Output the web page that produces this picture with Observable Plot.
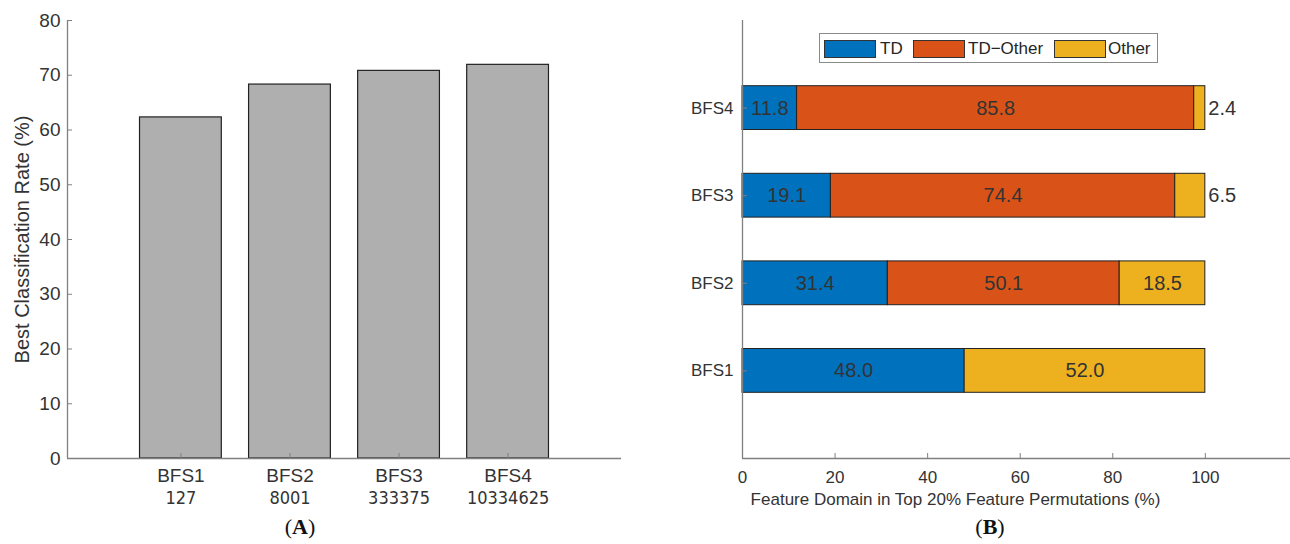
<!DOCTYPE html>
<html>
<head>
<meta charset="utf-8">
<script src="https://cdn.jsdelivr.net/npm/d3@7"></script>
<script src="https://cdn.jsdelivr.net/npm/@observablehq/plot@0.6"></script>
<style>
  html, body { margin: 0; padding: 0; background: #fff; overflow: hidden; }
  #wrap { position: relative; width: 1290px; height: 544px; font-family: "Liberation Sans", Arial, sans-serif; color: #333; }
  #left, #right { position: absolute; top: 0; }
  #left { left: 0; }
  #right { left: 645px; }
  .cap { position: absolute; top: 514px; font-family: "Liberation Serif", "Times New Roman", serif; font-size: 22px; color: #111; transform: translateX(-50%); white-space: nowrap; }
  .cap b { font-weight: bold; }
  #legend { position: absolute; left: 819px; top: 33px; width: 337px; height: 28px; border: 1px solid #8a8a8a; background: #fff; }
  #legend .sw { position: absolute; top: 6px; width: 50px; height: 16px; border: 1px solid #333; }
  #legend .lb { position: absolute; top: 5px; font-size: 17px; line-height: 20px; color: #262626; white-space: nowrap; }
</style>
</head>
<body>
<div id="wrap">
  <div id="left"></div>
  <div id="right"></div>
  <div id="legend"></div>
  <div class="cap" style="left:300px">(<b>A</b>)</div>
  <div class="cap" style="left:990px">(<b>B</b>)</div>
</div>
<script>
// Panel A: best classification rate per feature set
const bfsNames = ["BFS1", "BFS2", "BFS3", "BFS4"];
const bfsCounts = ["127", "8001", "333375", "10334625"];
const bestRate = [62.3, 68.3, 70.8, 71.9];
const rateTicks = [0, 10, 20, 30, 40, 50, 60, 70, 80];

// Panel B: feature domain shares in the top 20% permutations
const domains = ["TD", "TD\u2212Other", "Other"];
const domainColors = ["#0072BD", "#D95319", "#EDB120"];
const tdShare = [48.0, 31.4, 19.1, 11.8];
const tdOtherShare = [0, 50.1, 74.4, 85.8];
const otherShare = [52.0, 18.5, 6.5, 2.4];
const shareTicks = [0, 20, 40, 60, 80, 100];

const axisGray = "#808080";
const textDark = "#333";

const rateRows = bfsNames.map((name, i) => ({name, pos: i + 1, count: bfsCounts[i], rate: bestRate[i]}));
const posTicks = rateRows.map(d => d.pos);
const nameOf = p => bfsNames[p - 1];
const countOf = p => bfsCounts[p - 1];

const leftPlot = Plot.plot({
  width: 645,
  height: 544,
  marginLeft: 67,
  marginRight: 24,
  marginTop: 20,
  marginBottom: 86,
  style: {fontFamily: "'Liberation Sans', Arial, sans-serif", background: "transparent"},
  x: {domain: [-0.04, 5.04]},
  y: {domain: [0, 80]},
  marks: [
    Plot.rectY(rateRows, {x1: d => d.pos - 0.375, x2: d => d.pos + 0.375, y1: 0, y2: "rate", fill: "#afafaf", stroke: "#222", strokeWidth: 1.2}),
    Plot.ruleX([-0.04], {stroke: axisGray, strokeWidth: 1.3}),
    Plot.ruleY([0], {stroke: axisGray, strokeWidth: 1.3}),
    Plot.axisY(rateTicks, {tickSize: -5, stroke: axisGray, tickFormat: () => "", label: null}),
    Plot.axisY(rateTicks, {tickSize: 0, tickPadding: 7, fontSize: 19, fill: textDark, label: null}),
    Plot.axisX(posTicks, {tickSize: -5, stroke: axisGray, tickFormat: () => "", label: null}),
    Plot.axisX(posTicks, {tickSize: 0, tickPadding: 10, fontSize: 19, fill: textDark, tickFormat: nameOf, label: null}),
    Plot.axisX(posTicks, {tickSize: 0, tickPadding: 33, fontSize: 18, fill: textDark, tickFormat: countOf, label: null,
      fontFamily: "'Liberation Sans Narrow', 'DejaVu Sans Condensed', sans-serif"}),
    Plot.text(["Best Classification Rate (%)"], {frameAnchor: "left", rotate: -90, dx: -45, textAnchor: "middle", lineAnchor: "middle", fontSize: 20, fill: textDark})
  ]
});
document.getElementById("left").append(leftPlot);

const shareCols = [tdShare, tdOtherShare, otherShare];
const shareRows = [];
bfsNames.forEach((name, i) => {
  domains.forEach((dom, j) => {
    const v = shareCols[j][i];
    if (v > 0) shareRows.push({name, pos: i + 1, domain: dom, value: v});
  });
});

const rightPlot = Plot.plot({
  width: 645,
  height: 544,
  marginLeft: 97,
  marginRight: 0,
  marginTop: 20,
  marginBottom: 86,
  style: {fontFamily: "'Liberation Sans', Arial, sans-serif", background: "transparent", overflow: "visible"},
  x: {domain: [0, 118.4]},
  y: {domain: [0, 5]},
  color: {domain: domains, range: domainColors},
  marks: [
    Plot.rectX(shareRows, Plot.stackX({x: "value", y1: d => d.pos - 0.25, y2: d => d.pos + 0.25, fill: "domain", stroke: "#222", strokeWidth: 1})),
    Plot.text(shareRows, Plot.stackX({x: "value", y: "pos", text: d => d.value >= 8 ? d.value.toFixed(1) : "", fontSize: 20, fill: textDark})),
    Plot.text(shareRows, Plot.stackX2({x: "value", y: "pos", text: d => d.value < 8 ? d.value.toFixed(1) : "", fontSize: 20, fill: textDark, textAnchor: "start", dx: 3})),
    Plot.ruleX([0], {stroke: axisGray, strokeWidth: 1.3}),
    Plot.ruleY([0], {stroke: axisGray, strokeWidth: 1.3}),
    Plot.axisX(shareTicks, {tickSize: -5, stroke: axisGray, tickFormat: () => "", label: null}),
    Plot.axisX(shareTicks, {tickSize: 0, tickPadding: 12, fontSize: 17, fill: textDark, label: null}),
    Plot.axisY(posTicks, {tickSize: -5, stroke: axisGray, tickFormat: () => "", label: null}),
    Plot.axisY(posTicks, {tickSize: 0, tickPadding: 9, fontSize: 17, fill: textDark, tickFormat: nameOf, label: null}),
    Plot.text(["Feature Domain in Top 20% Feature Permutations (%)"], {frameAnchor: "bottom", dx: -61, dy: 41, lineAnchor: "middle", fontSize: 17, fill: textDark})
  ]
});
document.getElementById("right").append(rightPlot);

// Legend inside panel B
const legend = document.getElementById("legend");
const swatchLeft = [4, 93, 234];
const labelLeft = [60, 148, 288];
domains.forEach((dom, j) => {
  const sw = document.createElement("div");
  sw.className = "sw";
  sw.style.left = swatchLeft[j] + "px";
  sw.style.background = domainColors[j];
  legend.append(sw);
  const lb = document.createElement("div");
  lb.className = "lb";
  lb.style.left = labelLeft[j] + "px";
  lb.textContent = dom;
  legend.append(lb);
});
</script>
</body>
</html>
